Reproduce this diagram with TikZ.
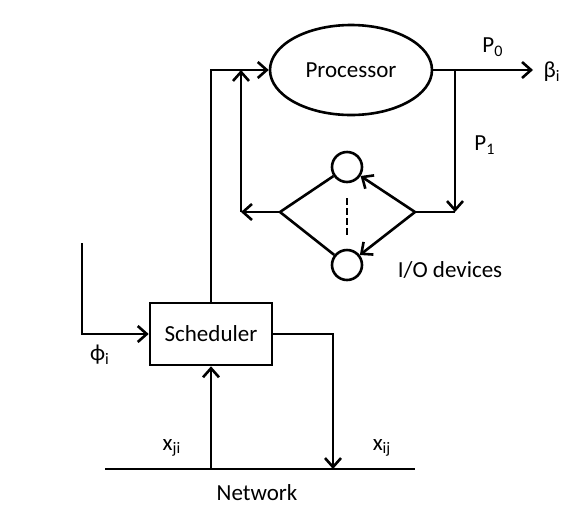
\documentclass[tikz,border=0pt]{standalone}
\usepackage{fontspec}
\setmainfont{Carlito}
\usetikzlibrary{arrows.meta,shapes.geometric,calc}

\begin{document}
\begin{tikzpicture}[
  x=0.5pt, y=-0.5pt,
  font=\fontsize{11.5}{14}\selectfont,
  >={Straight Barb[length=4.5pt, width=8pt]},
  line width=1.3pt,
  proc/.style={draw, ellipse, minimum width=81pt, minimum height=45pt, inner sep=0pt},
  box/.style={draw, rectangle, minimum width=61pt, minimum height=31pt, inner sep=0pt},
  dev/.style={draw, circle, minimum size=15pt, inner sep=0pt},
  flow/.style={->},
  lbl/.style={inner sep=1pt},
]
\useasboundingbox (0,0) rectangle (588,531);

% ---- main nodes ----
\node[proc] (cpu) at (351,70) {Processor};
\node[box] (sched) at (211,334) {Scheduler};
\node[dev] (io1) at (347,167) {};
\node[dev] (io2) at (347,265) {};

% ---- junction points ----
\coordinate (dl) at (280,212);
\coordinate (dr) at (415,212);
\coordinate (fbk) at (241,212);
\coordinate (split) at (455,70);
\coordinate (p1end) at (455,212);
\coordinate (out) at (533,70);
\coordinate (phin) at (82,243);
\coordinate (netL) at (105,469);
\coordinate (netR) at (415,469);
\coordinate (netdown) at (333,469);

% ---- processor in / out ----
\draw[flow] (sched.north) |- (cpu.west);
\draw[flow] (cpu.east) -- (out);
\node[lbl] (p0) at (493,47) {P\textsubscript{0}};
\node[lbl] (beta) at (552,72) {β\textsubscript{i}};

% ---- I/O loop ----
\draw[flow] (split) -- (p1end);
\node[lbl] (p1) at (485,145) {P\textsubscript{1}};
\draw (dr) -- (p1end);
\draw[flow] (dr) -- (io1);
\draw[flow] (dr) -- (io2);
\draw (dl) -- (io1);
\draw (dl) -- (io2);
\draw[dash pattern=on 3.5pt off 1.5pt] (io1.south) ++(0,15) coordinate (dsh) -- ($(dsh)+(0,38)$);
\node[lbl] (iolbl) at (450,270) {I/O devices};
\draw[flow] (dl) -- (fbk);
\draw[flow] (fbk) -- (fbk |- cpu.west);

% ---- scheduler ----
\draw[flow] (phin) |- (sched.west);
\node[lbl] (phi) at (100,355) {ϕ\textsubscript{i}};
\draw[flow] (sched.east) -| (netdown);

% ---- network ----
\draw (netL) -- (netR);
\draw[flow] (sched.south |- netL) -- (sched.south);
\node[lbl] (xji) at (172,448) {x\textsubscript{ji}};
\node[lbl] (xij) at (382,448) {x\textsubscript{ij}};
\node[lbl] (net) at (257,493) {Network};
\end{tikzpicture}
\end{document}
